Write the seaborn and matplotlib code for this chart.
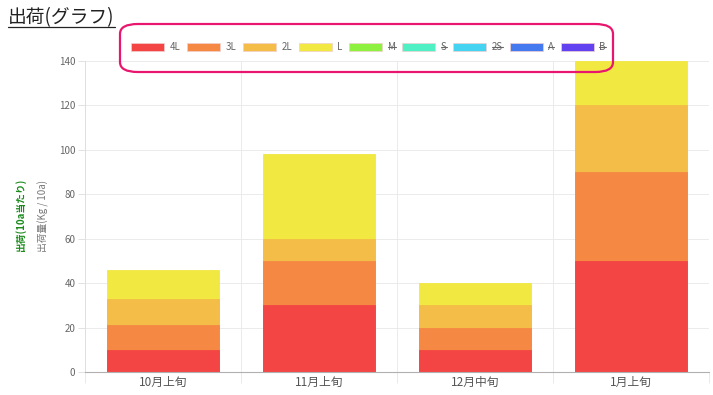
import matplotlib
matplotlib.use("Agg")
import matplotlib.pyplot as plt
from matplotlib.patches import FancyBboxPatch, Patch
from matplotlib.lines import Line2D
import seaborn as sns
import pandas as pd
import numpy as np

# data
periods = ["10月上旬", "11月上旬", "12月中旬", "1月上旬"]
grades = ["4L", "3L", "2L", "L", "M", "S", "2S", "A", "B"]
hidden = ["M", "S", "2S", "A", "B"]
v_4L = [10, 30, 10, 50]
v_3L = [11, 20, 10, 40]
v_2L = [12, 10, 10, 30]
v_L = [13, 38, 10, 20]
colors = ["#f44545", "#f58943", "#f4bd47", "#f2e842", "#8ef03f",
          "#4ef0c4", "#44d3f0", "#4579f0", "#6242f0"]

sns.set_theme(style="white")
plt.rcParams["font.family"] = ["Noto Sans CJK JP", "DejaVu Sans"]

df = pd.DataFrame({"period": periods, "4L": v_4L, "3L": v_3L, "2L": v_2L, "L": v_L})
stack = df[["4L", "3L", "2L", "L"]].cumsum(axis=1)

fig = plt.figure(figsize=(7.13, 3.95), dpi=100)
ax = fig.add_axes([85 / 713, 23 / 395, 624 / 713, 311 / 395])

# draw cumulative totals from top down so each segment shows
for g, c in reversed(list(zip(["4L", "3L", "2L", "L"], colors[:4]))):
    sns.barplot(x=df["period"], y=stack[g], color=c, width=0.72,
                saturation=1, ax=ax, edgecolor=c, linewidth=0.6)

ax.set_ylim(0, 140)
ax.set_xlim(-0.5, 3.5)
ax.set_yticks(range(0, 141, 20))
ax.set_xticks(range(4))
ax.set_xticklabels(periods, fontsize=8.5, color="#555555")
ax.set_xticks([-0.5, 0.5, 1.5, 2.5, 3.5], minor=True)
ax.tick_params(axis="y", labelsize=7, colors="#666666", length=5, width=0.6,
               color="#dddddd", pad=2, left=True)
ax.tick_params(axis="x", which="major", length=0, pad=3)
ax.tick_params(axis="x", which="minor", length=8, width=0.6, color="#e6e6e6", bottom=True)
ax.grid(axis="y", color="#e8e8e8", linewidth=0.6)
ax.grid(axis="x", which="minor", color="#e8e8e8", linewidth=0.6)
ax.set_axisbelow(True)
ax.set_xlabel("")
ax.set_ylabel("出荷量(Kg / 10a)", fontsize=7, color="#777777", labelpad=7)
for s in ["top", "right"]:
    ax.spines[s].set_visible(False)
ax.spines["left"].set_color("#dddddd")
ax.spines["left"].set_linewidth(0.6)
ax.spines["bottom"].set_color("#b0b0b0")
ax.spines["bottom"].set_linewidth(0.8)

fig.text(21 / 713, 1 - 215 / 395, "出荷(10a当たり)", rotation=90, ha="center", va="center",
         fontsize=7, color="#1a8a1a", fontweight="bold")

# title, underlined
title = fig.text(8 / 713, 1 - 18 / 395, "出荷(グラフ)", fontsize=13.5, color="#222222",
                 ha="left", va="center")

# legend
handles = [Patch(facecolor=c, edgecolor="#f0d0d0", linewidth=0.5) for c in colors]
leg = fig.legend(handles, grades, loc="center left", bbox_to_anchor=(131 / 713, 1 - 47 / 395),
                 ncol=9, frameon=False, fontsize=7, handlelength=3.4, handleheight=0.9,
                 handletextpad=0.55, columnspacing=0.7, borderaxespad=0, borderpad=0)
for t in leg.get_texts():
    t.set_color("#666666")

fig.canvas.draw()
r = fig.canvas.get_renderer()
inv = fig.transFigure.inverted()
for t in leg.get_texts():
    if t.get_text() in hidden:
        bb = t.get_window_extent(r).transformed(inv)
        ym = (bb.y0 + bb.y1) / 2
        fig.add_artist(Line2D([bb.x0, bb.x1], [ym, ym], color="#666666", linewidth=0.8))
bb = title.get_window_extent(r).transformed(inv)
fig.add_artist(Line2D([bb.x0, bb.x1], [bb.y0 + 0.004, bb.y0 + 0.004], color="#222222", linewidth=0.9))

# highlight box around legend
fig.add_artist(FancyBboxPatch((120 / 713, 1 - 72 / 395), 493 / 713, 48 / 395,
                              boxstyle="round,pad=0,rounding_size=0.025",
                              transform=fig.transFigure, facecolor="none",
                              edgecolor="#e8166e", linewidth=1.6))

fig.savefig("out.png", dpi=100)
